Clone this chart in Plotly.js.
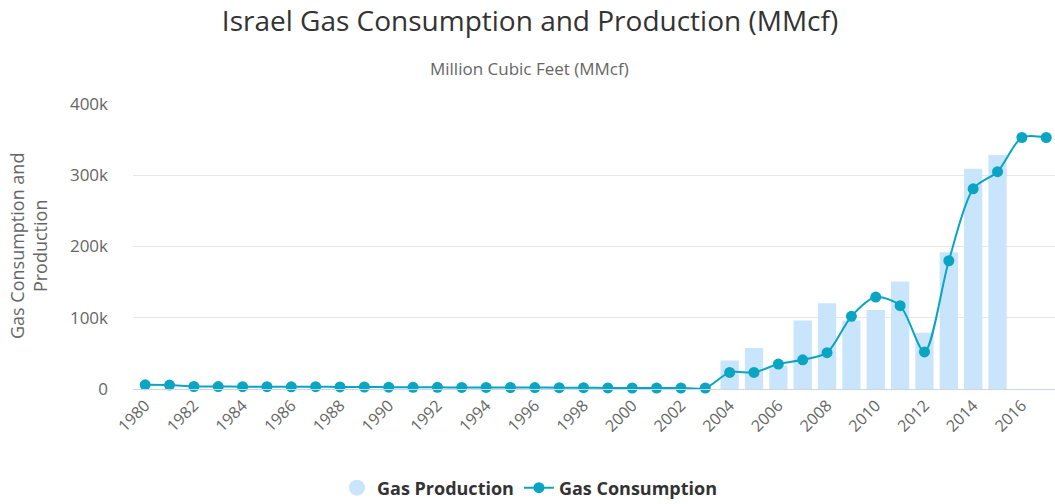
<!DOCTYPE html>
<html>
<head>
<meta charset="utf-8">
<script src="https://cdn.plot.ly/plotly-3.0.1.min.js"></script>
<style>html,body{margin:0;padding:0;background:#fff;}#chart{width:1055px;height:504px;}</style>
</head>
<body>
<div id="chart"></div>
<script>
const years = [1980,1981,1982,1983,1984,1985,1986,1987,1988,1989,1990,1991,1992,1993,1994,1995,1996,1997,1998,1999,2000,2001,2002,2003,2004,2005,2006,2007,2008,2009,2010,2011,2012,2013,2014,2015,2016,2017];
const gasProduction = [null,null,null,null,null,null,null,null,null,null,null,null,null,null,null,null,null,null,null,null,null,null,null,null,40000,57500,33000,96000,120500,96000,111000,151000,79000,192000,309000,328500,null,null];
const gasConsumption = [5800,5500,3500,3400,3300,3300,3100,3200,2900,2800,2500,2400,2300,2200,2200,2100,2000,1900,1800,1500,1400,1400,1400,1400,23300,23300,35000,41000,51000,102000,129000,117000,52000,180000,281000,305000,353000,353000];
const yTickVals = [0,100000,200000,300000,400000];
const yTickText = ['0','100k','200k','300k','400k'];

const lineColor = '#0aa5c2';
const barColor = '#c8e5fc';
const font = 'Open Sans, sans-serif';

const traces = [
  {type:'bar', x:years, y:gasProduction, name:'Gas Production', marker:{color:barColor}, showlegend:false, hoverinfo:'x+y'},
  {type:'scatter', mode:'markers', x:[null], y:[null], name:'Gas Production', marker:{color:barColor, size:18, symbol:'circle'}, showlegend:true, hoverinfo:'skip'},
  {type:'scatter', mode:'lines+markers', x:years, y:gasConsumption, name:'Gas Consumption', line:{color:lineColor, width:2, shape:'spline', smoothing:0.8}, marker:{color:lineColor, size:11}, cliponaxis:false}
];

const layout = {
  width:1055, height:504,
  margin:{l:133, r:0, t:104, b:115, autoexpand:false},
  paper_bgcolor:'#fff', plot_bgcolor:'#fff',
  font:{family:font, color:'#666'},
  title:{text:'Israel Gas Consumption and Production (MMcf)', font:{family:font, size:28, color:'#333'}, x:530/1055, xref:'container', xanchor:'center', y:1-21/504, yref:'container', yanchor:'middle'},
  bargap:0.25,
  xaxis:{automargin:false, range:[1979.5, 2017.36], tickmode:'linear', tick0:1980, dtick:2, tickangle:-45, showgrid:false, showline:true, linecolor:'#ccd6eb', linewidth:1, ticks:'', tickfont:{size:16, color:'#666'}, zeroline:false, fixedrange:true},
  yaxis:{automargin:false, range:[0,400000], tickvals:yTickVals, ticktext:yTickText, showgrid:true, gridcolor:'#e6e6e6', gridwidth:1, zeroline:false, showline:false, ticks:'', tickfont:{size:17, color:'#666'}, ticklabelstandoff:24},
  legend:{orientation:'h', x:(530-133)/922, xref:'paper', xanchor:'center', y:(389-488)/285, yanchor:'middle', font:{family:font, size:18, color:'#333', weight:'bold'}, itemwidth:30, traceorder:'normal'},
  annotations:[
    {text:'Million Cubic Feet (MMcf)', xref:'paper', yref:'paper', x:(529-133)/922, y:(389-68)/285, xanchor:'center', yanchor:'middle', showarrow:false, font:{family:font, size:17, color:'#666'}},
    {text:'Gas Consumption and<br>Production', xref:'paper', yref:'paper', x:(28-133)/922, y:(389-246)/285, xanchor:'center', yanchor:'middle', textangle:-90, showarrow:false, font:{family:font, size:18, color:'#666'}}
  ],
  showlegend:true
};

Plotly.newPlot('chart', traces, layout, {displayModeBar:false, staticPlot:true});
</script>
</body>
</html>
